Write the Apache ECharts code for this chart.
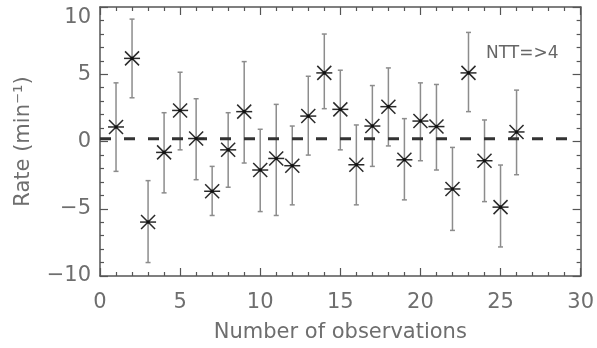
<!DOCTYPE html>
<html>
<head>
<meta charset="utf-8">
<script src="https://cdn.jsdelivr.net/npm/echarts@6/dist/echarts.min.js"></script>
<style>
html,body{margin:0;padding:0;background:#fff;}
#chart{width:597px;height:348px;}
</style>
</head>
<body>
<div id="chart"></div>
<script>
// ---- data ----
const obsNumber = [1,2,3,4,5,6,7,8,9,10,11,12,13,14,15,16,17,18,19,20,21,22,23,24,25,26];
const rate      = [1.08,6.18,-5.99,-0.81,2.31,0.22,-3.70,-0.62,2.22,-2.12,-1.26,-1.80,1.89,5.10,2.39,-1.73,1.15,2.59,-1.36,1.52,1.11,-3.53,5.10,-1.43,-4.88,0.71];
const rateUpper = [4.36,9.10,-2.91,2.14,5.15,3.18,-1.85,2.14,5.94,0.91,2.76,1.15,4.85,7.99,5.30,1.23,4.16,5.47,1.70,4.36,4.24,-0.44,8.11,1.60,-1.75,3.82];
const rateLower = [-2.22,3.25,-9.00,-3.82,-0.62,-2.84,-5.50,-3.40,-1.60,-5.21,-5.50,-4.71,-1.01,2.44,-0.62,-4.71,-1.85,-0.33,-4.34,-1.43,-2.12,-6.61,2.22,-4.47,-7.84,-2.47];
const meanLevel = 0.2;
const meanLineX = [0, 29.2];
const xTicks = {min: 0, max: 30, step: 5};
const yTicks = {min: -10, max: 10, step: 5};
const annotation = 'NTT=>4';
const xName = 'Number of observations';
const yName = 'Rate (min⁻¹)';

const FONT = 'DejaVu Sans';
const TXT = '#6e6e6e';
const AX = '#555';

const chart = echarts.init(document.getElementById('chart'), null, {renderer: 'canvas'});

const errData = obsNumber.map((x, i) => [x, rate[i], rateLower[i], rateUpper[i]]);
const ptData = obsNumber.map((x, i) => [x, rate[i]]);

function axisCommon(extra) {
  return Object.assign({
    type: 'value',
    axisLine: {show: true, onZero: false, lineStyle: {color: AX, width: 1.5}},
    axisTick: {show: true, inside: true, length: 8, lineStyle: {color: AX, width: 1.2}},
    minorTick: {show: true, splitNumber: 5, length: 4, lineStyle: {color: AX, width: 1.2}},
    splitLine: {show: false},
    minorSplitLine: {show: false}
  }, extra);
}

const option = {
  animation: false,
  backgroundColor: '#fff',
  grid: {left: 100, right: 14, top: 7, bottom: 71, containLabel: false},
  xAxis: [
    axisCommon({
      min: xTicks.min, max: xTicks.max, interval: xTicks.step, position: 'bottom',
      name: xName, nameLocation: 'middle', nameGap: 46,
      nameTextStyle: {fontFamily: FONT, fontSize: 21, color: TXT},
      axisLabel: {fontFamily: FONT, fontSize: 21, color: TXT, margin: 16}
    }),
    axisCommon({
      min: xTicks.min, max: xTicks.max, interval: xTicks.step, position: 'top',
      axisLabel: {show: false}
    })
  ],
  yAxis: [
    axisCommon({
      min: yTicks.min, max: yTicks.max, interval: yTicks.step, position: 'left',
      name: yName, nameLocation: 'middle', nameGap: 66, nameRotate: 90,
      nameTextStyle: {fontFamily: FONT, fontSize: 21, color: TXT},
      axisLabel: {fontFamily: FONT, fontSize: 21, color: TXT, margin: 9,
        verticalAlignMaxLabel: 'top',
        formatter: v => String(v).replace('-', '\u2212')}
    }),
    axisCommon({
      min: yTicks.min, max: yTicks.max, interval: yTicks.step, position: 'right',
      axisLabel: {show: false}
    })
  ],
  graphic: [{
    type: 'text', left: 486, top: 45,
    style: {text: annotation, fontFamily: FONT, fontSize: 17, fill: '#666'}
  }],
  series: [
    {
      type: 'line', xAxisIndex: 0, yAxisIndex: 0,
      data: meanLineX.map(x => [x, meanLevel]),
      symbol: 'none', silent: true,
      lineStyle: {color: '#333', width: 3, type: [11, 13]},
      z: 3
    },
    {
      type: 'custom', xAxisIndex: 0, yAxisIndex: 0,
      data: errData, z: 2,
      renderItem: function (params, api) {
        const x = api.value(0);
        const top = api.coord([x, api.value(3)]);
        const bot = api.coord([x, api.value(2)]);
        const cw = 2.5;
        const st = {stroke: '#8c8c8c', lineWidth: 1.5};
        return {type: 'group', children: [
          {type: 'line', shape: {x1: top[0], y1: top[1], x2: bot[0], y2: bot[1]}, style: st},
          {type: 'line', shape: {x1: top[0]-cw, y1: top[1], x2: top[0]+cw, y2: top[1]}, style: st},
          {type: 'line', shape: {x1: bot[0]-cw, y1: bot[1], x2: bot[0]+cw, y2: bot[1]}, style: st}
        ]};
      }
    },
    {
      type: 'custom', xAxisIndex: 0, yAxisIndex: 0,
      data: ptData, z: 4,
      renderItem: function (params, api) {
        const c = api.coord([api.value(0), api.value(1)]);
        const r = 8, d = 7;
        const st = {stroke: '#2a2a2a', lineWidth: 1.5};
        return {type: 'group', children: [
          {type: 'line', shape: {x1: c[0]-d, y1: c[1]-d, x2: c[0]+d, y2: c[1]+d}, style: st},
          {type: 'line', shape: {x1: c[0]-d, y1: c[1]+d, x2: c[0]+d, y2: c[1]-d}, style: st},
          {type: 'line', shape: {x1: c[0]-r, y1: c[1], x2: c[0]+r, y2: c[1]}, style: st},
          {type: 'circle', shape: {cx: c[0], cy: c[1], r: 1.8}, style: {fill: '#111'}}
        ]};
      }
    }
  ]
};
chart.setOption(option);
</script>
</body>
</html>
